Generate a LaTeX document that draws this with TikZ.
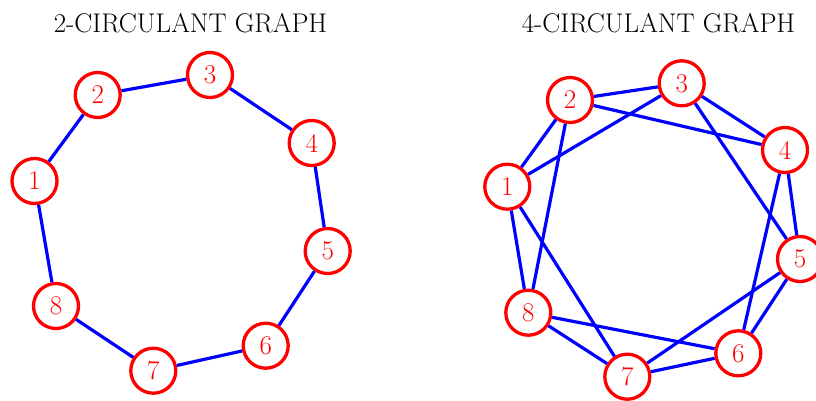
\documentclass[tikz,border=0pt]{standalone}
\begin{document}
\begin{tikzpicture}[x=1pt,y=-1pt,
  vtx/.style={circle,draw=red,fill=white,line width=3.3pt,minimum size=45pt,inner sep=0pt,text=red,font=\fontsize{27}{30}\selectfont},
  edge/.style={draw=blue,line width=3.2pt},
  ttl/.style={font=\fontsize{27}{30}\selectfont,anchor=base}]
\useasboundingbox (0,0) rectangle (816,400);
\node[ttl] (t1) at (190.5,32) {2-CIRCULANT GRAPH};
\node[ttl] (t2) at (658.5,32) {4-CIRCULANT GRAPH};
% left graph
\node[vtx] (a1) at (34.5,181) {1};
\node[vtx] (a2) at (97.7,95) {2};
\node[vtx] (a3) at (210,75) {3};
\node[vtx] (a4) at (311.7,143) {4};
\node[vtx] (a5) at (327.7,251) {5};
\node[vtx] (a6) at (265.7,345.7) {6};
\node[vtx] (a7) at (153.3,370.7) {7};
\node[vtx] (a8) at (56,306) {8};
\foreach \i/\j in {1/2,2/3,3/4,4/5,5/6,6/7,7/8,8/1}
  \draw[edge] (a\i) -- (a\j);
% right graph
\node[vtx] (b1) at (507.3,186.7) {1};
\node[vtx] (b2) at (570,100) {2};
\node[vtx] (b3) at (681.7,83.3) {3};
\node[vtx] (b4) at (785,150) {4};
\node[vtx] (b5) at (800,259) {5};
\node[vtx] (b6) at (738.3,353.3) {6};
\node[vtx] (b7) at (627.3,376.7) {7};
\node[vtx] (b8) at (528.3,312.7) {8};
\foreach \i/\j in {1/2,2/3,3/4,4/5,5/6,6/7,7/8,8/1,1/3,2/4,3/5,4/6,5/7,6/8,7/1,8/2}
  \draw[edge] (b\i) -- (b\j);
\end{tikzpicture}
\end{document}
